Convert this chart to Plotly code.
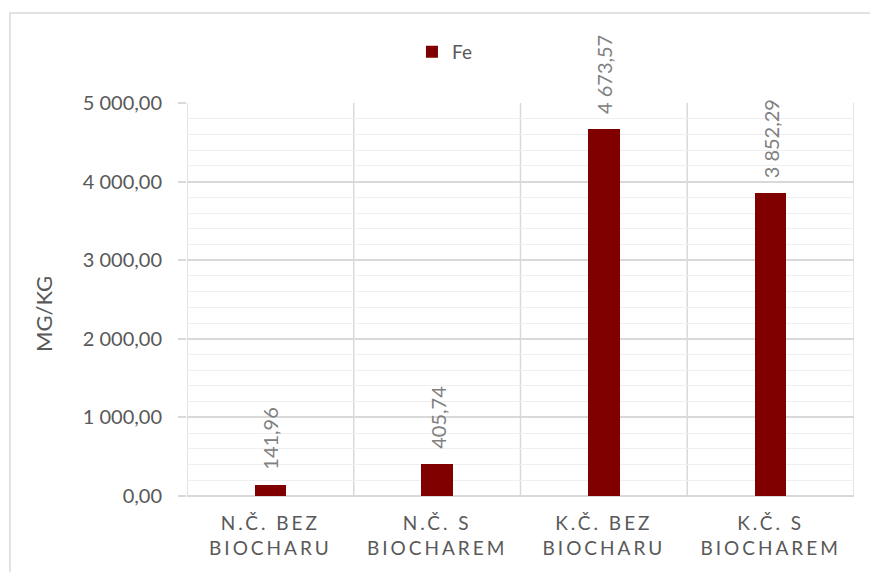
import plotly.graph_objects as go

categories = ["N.Č. BEZ<br>BIOCHARU", "N.Č. S<br>BIOCHAREM", "K.Č. BEZ<br>BIOCHARU", "K.Č. S<br>BIOCHAREM"]
fe_values = [141.96, 405.74, 4673.57, 3852.29]
series_name = "Fe"
y_title = "MG/KG"
y_ticks = [0, 1000, 2000, 3000, 4000, 5000]

FONT = "Lato"
BAR = "#800000"
GRID = "#d9d9d9"
MINOR = "#efefef"

def fmt(v):
    return f"{v:,.2f}".replace(",", " ").replace(".", ",")

x_idx = list(range(len(categories)))

fig = go.Figure()
fig.add_trace(go.Bar(
    x=x_idx, y=fe_values, name=series_name,
    marker=dict(color=BAR, line=dict(width=0)),
    width=0.19,
))

annotations = []
for i, v in zip(x_idx, fe_values):
    annotations.append(dict(
        x=i, y=v, xref="x", yref="y", text=fmt(v), showarrow=False,
        textangle=-90, xanchor="center", yanchor="bottom", yshift=13,
        font=dict(family=FONT, size=20, color="#808080"),
    ))
annotations.append(dict(
    x=-0.216, y=0.463, xref="paper", yref="paper", text=y_title, showarrow=False,
    textangle=-90, xanchor="center", yanchor="middle",
    font=dict(family=FONT, size=22, color="#595959"),
))

shapes = []
n = len(categories)
for k in range(n + 1):
    shapes.append(dict(type="line", xref="x", yref="paper", x0=k - 0.5, x1=k - 0.5,
                       y0=0, y1=1, line=dict(color=GRID, width=1.5), layer="below"))
# outer chart border
shapes.append(dict(type="rect", xref="paper", yref="paper", x0=-0.2654, x1=1.04,
                   y0=-0.25, y1=1.229, line=dict(color=GRID, width=1.5), layer="below"))

fig.update_layout(
    width=870, height=572,
    margin=dict(l=187, r=16, t=103, b=76),
    paper_bgcolor="white", plot_bgcolor="white",
    separators=", ",
    bargap=0,
    font=dict(family=FONT, color="#595959"),
    showlegend=True,
    legend=dict(orientation="h", x=0.386, xanchor="center", y=1.13, yanchor="middle",
                font=dict(family=FONT, size=19, color="#595959"), itemwidth=30),
    annotations=annotations,
    shapes=shapes,
)
fig.update_xaxes(
    range=[-0.5, n - 0.5], tickvals=x_idx, ticktext=categories,
    showgrid=False, zeroline=False, showline=False, ticks="",
    tickfont=dict(family=FONT, size=19, color="#595959"),
    ticklabelstandoff=14,
)
fig.update_yaxes(
    range=[0, 5000], tickvals=y_ticks, tickformat=",.2f",
    showgrid=True, gridcolor=GRID, gridwidth=1.5,
    zeroline=True, zerolinecolor=GRID, zerolinewidth=1.5,
    showline=False,
    ticks="outside", ticklen=8, tickcolor=GRID, tickwidth=1.5,
    tickfont=dict(family=FONT, size=20, color="#595959"),
    ticklabelstandoff=12,
    minor=dict(dtick=200, showgrid=True, gridcolor=MINOR, gridwidth=1.2, ticks=""),
)

post = "document.querySelectorAll('.xtick text').forEach(function(t){t.style.letterSpacing='3px';});"
fig.write_html("out.html", post_script=post)
